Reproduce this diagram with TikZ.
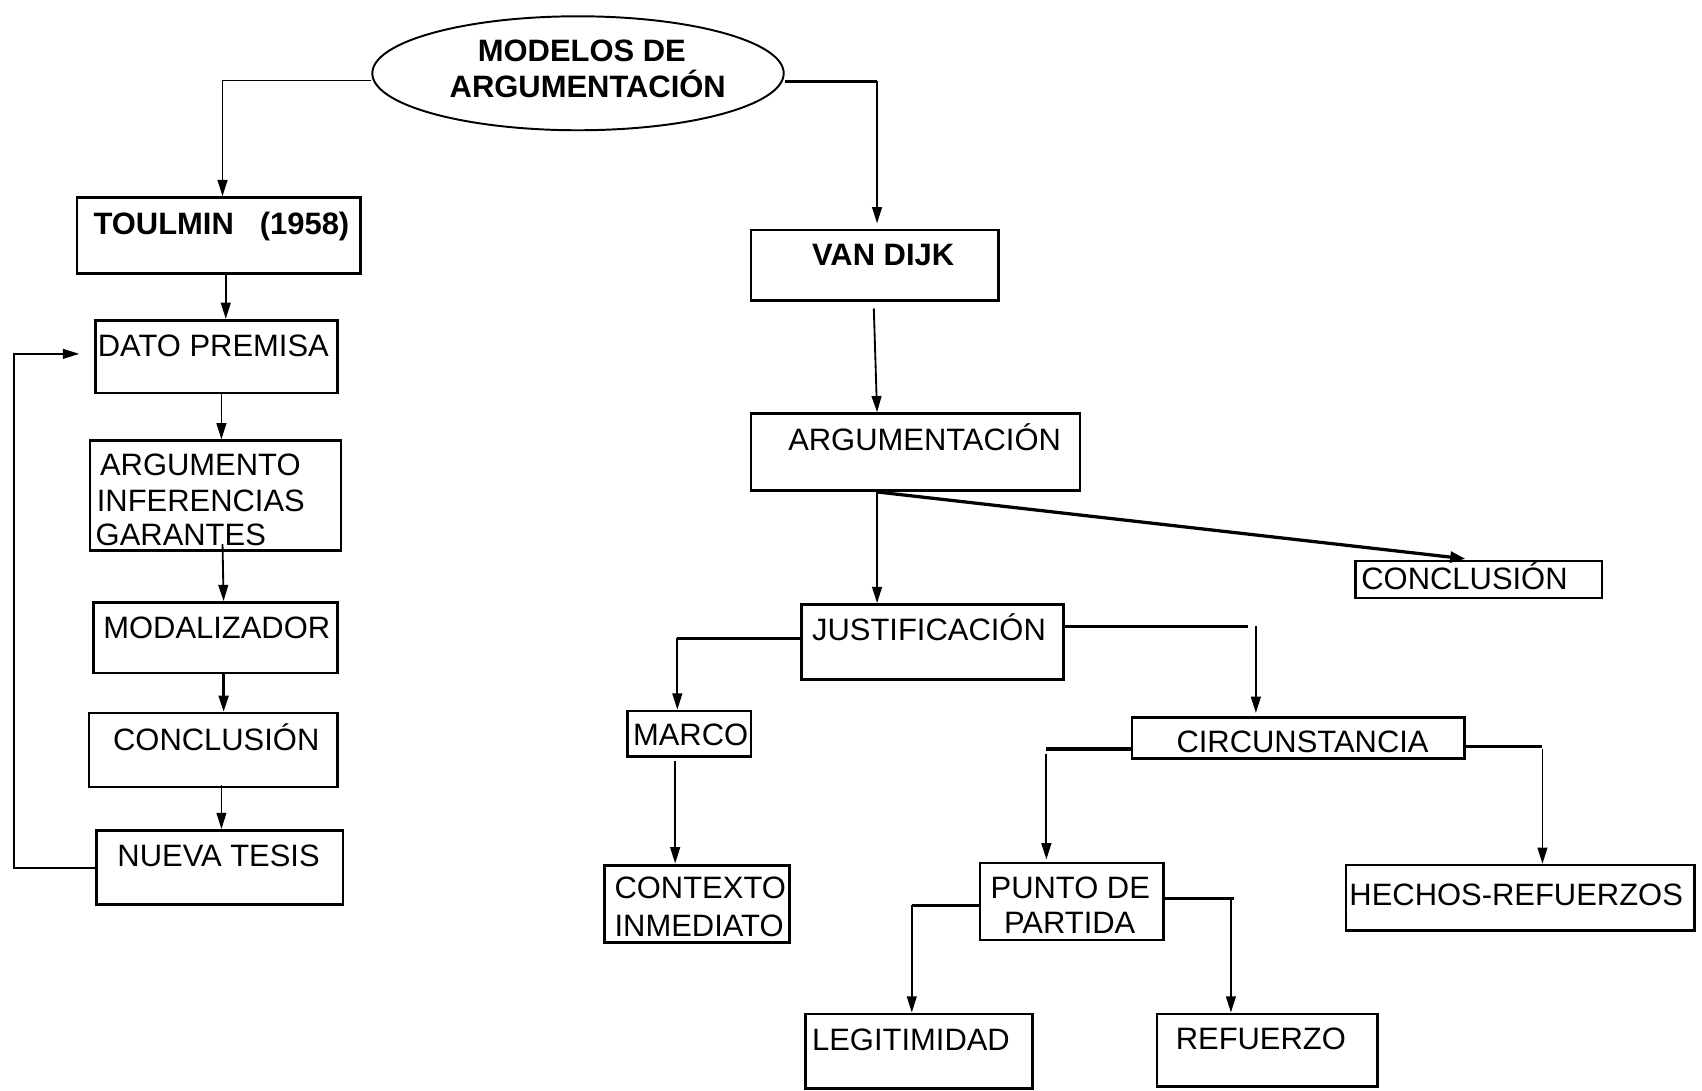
\documentclass[tikz,border=0pt]{standalone}
\usepackage{fontspec}
\setmainfont{Liberation Sans}
\usetikzlibrary{arrows.meta,shapes.geometric}
\begin{document}
\begin{tikzpicture}[x=1pt,y=-1pt,
  box/.style={draw, rectangle, line width=2.4pt, inner sep=0pt},
  txt/.style={anchor=base west, inner sep=0pt, font=\fontsize{28.5}{32.5}\selectfont},
  ctxt/.style={txt, anchor=base},
  btxt/.style={txt, font=\fontsize{28.5}{32.5}\selectfont\bfseries},
  arr/.style={line width=1.7pt, -{Triangle[length=15pt,width=9pt]}},
  thickarr/.style={line width=3pt, -{Triangle[length=14pt,width=10pt]}},
  hline/.style={line width=2.8pt},
  thinline/.style={line width=1.5pt}]
\useasboundingbox (0,0) rectangle (1568,1005);

% ---------- title ----------
\node[draw, ellipse, line width=1.8pt, minimum width=379pt, minimum height=105pt, inner sep=0pt] (ell) at (532.5,67.5) {};
\node[btxt, anchor=base] (ellA) at (536,57) {MODELOS DE};
\node[btxt, anchor=base] (ellB) at (541.5,90) {ARGUMENTACIÓN};

% ---------- Toulmin column ----------
\node[box, minimum width=261pt, minimum height=70pt] (tou) at (201.5,217) {};
\node[btxt] (touT) at (86,216) {TOULMIN\hspace{0.84em}(1958)};

\node[box, minimum width=223pt, minimum height=67pt] (dato) at (199.5,328.5) {};
\node[txt] (datoT) at (90,328) {DATO PREMISA};

\node[box, minimum width=231pt, minimum height=101pt] (arg) at (198.5,456.5) {};
\node[txt] (argT1) at (92,438) {ARGUMENTO};
\node[txt] (argT2) at (89,471) {INFERENCIAS};
\node[txt] (argT3) at (88,503) {GARANTES};

\node[box, minimum width=225pt, minimum height=65pt] (mod) at (198.5,587.5) {};
\node[txt] (modT) at (95,588) {MODALIZADOR};

\node[box, minimum width=229pt, minimum height=68pt] (conL) at (196.5,691) {};
\node[txt] (conLT) at (104,691) {CONCLUSIÓN};

\node[box, minimum width=227pt, minimum height=68pt] (nue) at (202.5,799) {};
\node[txt] (nueT) at (108,798) {NUEVA TESIS};

% ---------- van Dijk tree ----------
\node[box, minimum width=228pt, minimum height=65pt] (van) at (806,244.5) {};
\node[btxt] (vanT) at (748,245) {VAN DIJK};

\node[box, minimum width=303pt, minimum height=71pt] (argu) at (843.5,416.5) {};
\node[txt] (arguT) at (726,415) {ARGUMENTACIÓN};

\node[box, minimum width=227pt, minimum height=34pt] (conR) at (1362.5,534) {};
\node[txt] (conRT) at (1254,543) {CONCLUSIÓN};

\node[box, line width=2.8pt, minimum width=242pt, minimum height=69pt] (jus) at (859,591.5) {};
\node[txt] (jusT) at (748,590) {JUSTIFICACIÓN};

\node[box, minimum width=114pt, minimum height=42pt] (mar) at (635,676) {};
\node[txt] (marT) at (583,687) {MARCO};

\node[box, line width=3pt, minimum width=170pt, minimum height=71pt] (ctx) at (642,832.5) {};
\node[txt] (ctxT1) at (566,828) {CONTEXTO};
\node[txt] (ctxT2) at (566,863) {INMEDIATO};

\node[box, minimum width=306pt, minimum height=38pt] (cir) at (1196,680) {};
\node[ctxt] (cirT) at (1200,693) {CIRCUNSTANCIA};

\node[box, minimum width=169pt, minimum height=71pt] (pun) at (987.5,830.5) {};
\node[ctxt] (punT1) at (986,828) {PUNTO DE};
\node[ctxt] (punT2) at (985.5,860) {PARTIDA};

\node[box, minimum width=321pt, minimum height=60pt] (hec) at (1400.5,827) {};
\node[txt] (hecT) at (1243,834) {HECHOS-REFUERZOS};

\node[box, minimum width=209pt, minimum height=69pt] (leg) at (846.5,968.5) {};
\node[txt] (legT) at (748,968) {LEGITIMIDAD};

\node[box, minimum width=203pt, minimum height=67pt] (ref) at (1167.5,967.5) {};
\node[txt] (refT) at (1083,967) {REFUERZO};

% ---------- elbow points ----------
\coordinate (lk) at (205,74);
\coordinate (rk) at (808,75);
\coordinate (fbcorner) at (13,326);
\coordinate (fbtip) at (73,326);
\coordinate (jl) at (624,588);
\coordinate (jr) at (1157,577);
\coordinate (cl) at (964,690);
\coordinate (cr) at (1421,688);
\coordinate (pl) at (840,834);
\coordinate (pr) at (1134,828);

% ---------- connectors: title ----------
\draw[thinline] (ell.west |- lk) -- (lk);
\draw[arr] (lk) -- (tou.north -| lk);
\draw[hline] (ell.east |- rk) -- (rk);
\draw[arr] (rk) -- ([yshift=5pt]van.north -| rk);

% ---------- connectors: Toulmin ----------
\draw[arr] ([xshift=6.5pt]tou.south) -- ([xshift=8.5pt]dato.north);
\draw[arr] ([xshift=4.5pt]dato.south) -- ([xshift=5.5pt]arg.north);
\draw[arr] ([xshift=6.5pt,yshift=7pt]arg.south) -- ([xshift=7.5pt]mod.north);
\draw[arr, line width=2.4pt] ([xshift=7.5pt]mod.south) -- ([xshift=9.5pt]conL.north);
\draw[arr] ([xshift=7.5pt,yshift=3pt]conL.south) -- ([xshift=1.5pt]nue.north);
\draw[arr] ([yshift=-1pt]nue.west) -| (fbcorner) -- (fbtip);

% ---------- connectors: van Dijk ----------
\draw[arr] ([xshift=-1pt,yshift=-6pt]van.south) -- ([xshift=-35.5pt]argu.north);
\draw[arr] ([xshift=-35.5pt]argu.south) -- ([xshift=-51pt]jus.north);
\draw[thickarr] ([xshift=-35.5pt]argu.south) -- ([xshift=-12.5pt,yshift=1pt]conR.north);

\draw[hline] ([yshift=3.5pt]jus.west) -- (jl);
\draw[arr] (jl) -- (mar.north -| jl);
\draw[arr] ([xshift=-13pt,yshift=-3pt]mar.south) -- ([xshift=-20pt]ctx.north);

\draw[hline] ([yshift=14.5pt]jus.east) -- ([xshift=-7pt]jr);
\draw[arr] (jr) -- ([yshift=3pt]cir.north -| jr);

\draw[hline] ([yshift=-10pt]cir.west) -- (cl);
\draw[arr] ([yshift=-5pt]cl) -- ([yshift=2pt]pun.north -| cl);
\draw[hline] ([yshift=-8pt]cir.east) -- (cr);
\draw[arr] ([yshift=-2pt]cr) -- (hec.north -| cr);

\draw[hline] ([yshift=-3.5pt]pun.west) -- (pl);
\draw[arr] (pl) -- (leg.north -| pl);
\draw[hline] ([yshift=2.5pt]pun.east) -- ([xshift=3pt]pr);
\draw[arr] (pr) -- (ref.north -| pr);
\end{tikzpicture}
\end{document}
